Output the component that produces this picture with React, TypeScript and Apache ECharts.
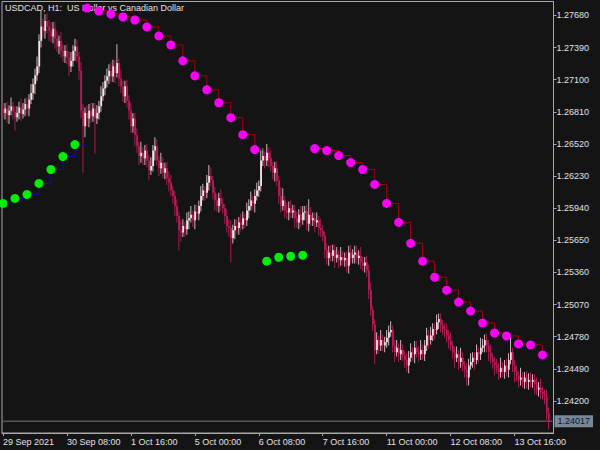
import React, { useEffect, useRef } from "react";
import * as echarts from "echarts";

// ---- data (USDCAD, H1) ----
const SYMBOL_TITLE = "USDCAD, H1:  US Dollar vs Canadian Dollar";
const X_TICK_LABELS = ["29 Sep 2021", "30 Sep 08:00", "1 Oct 16:00", "5 Oct 00:00", "6 Oct 08:00", "7 Oct 16:00", "11 Oct 00:00", "12 Oct 08:00", "13 Oct 16:00"];
const X_TICK_EVERY = 32; // bars between time labels
const Y_BASE = 1.242; // the 1.24200 gridline
const Y_STEP = 0.0029;
const Y_MIN_OFFSET = -0.0029;
const Y_MAX_OFFSET = 0.03606;
const LAST_PRICE = 1.24017;
const FIRST_OPEN = 1.2683;

const CLOSE = [
  1.2680,1.2684,1.2678,1.2682,1.2686,1.2681,1.2676,1.2680,1.2685,1.2679,
  1.2683,1.2688,1.2684,1.2692,1.2698,1.2706,1.2714,1.2722,1.2745,1.2758,
  1.2754,1.2763,1.2758,1.2754,1.2749,1.2756,1.2747,1.2740,1.2745,1.2736,
  1.2731,1.2736,1.2730,1.2722,1.2727,1.2736,1.2740,1.2731,1.2718,1.2682,
  1.2668,1.2680,1.2675,1.2682,1.2677,1.2684,1.2675,1.2680,1.2686,1.2695,
  1.2702,1.2709,1.2713,1.2718,1.2713,1.2722,1.2716,1.2725,1.2711,1.2704,
  1.2695,1.2704,1.2691,1.2682,1.2668,1.2675,1.2660,1.2650,1.2641,1.2644,
  1.2639,1.2646,1.2637,1.2628,1.2632,1.2646,1.2650,1.2637,1.2630,1.2635,
  1.2626,1.2630,1.2621,1.2617,1.2610,1.2605,1.2596,1.2587,1.2574,1.2572,
  1.2578,1.2575,1.2583,1.2585,1.2588,1.2583,1.2591,1.2589,1.2596,1.2605,
  1.2610,1.2608,1.2617,1.2623,1.2619,1.2608,1.2601,1.2596,1.2603,1.2598,
  1.2594,1.2587,1.2578,1.2576,1.2567,1.2574,1.2578,1.2576,1.2581,1.2579,
  1.2585,1.2583,1.2592,1.2596,1.2601,1.2598,1.2605,1.2610,1.2614,1.2637,
  1.2641,1.2637,1.2644,1.2639,1.2632,1.2626,1.2630,1.2619,1.2605,1.2596,
  1.2601,1.2592,1.2590,1.2594,1.2590,1.2592,1.2585,1.2581,1.2588,1.2583,
  1.2590,1.2591,1.2580,1.2588,1.2583,1.2585,1.2581,1.2583,1.2576,1.2574,
  1.2569,1.2556,1.2549,1.2554,1.2551,1.2556,1.2549,1.2552,1.2547,1.2550,
  1.2547,1.2549,1.2542,1.2554,1.2549,1.2552,1.2554,1.2549,1.2551,1.2545,
  1.2542,1.2545,1.2538,1.2520,1.2502,1.2489,1.2466,1.2475,1.2470,1.2475,
  1.2470,1.2473,1.2477,1.2482,1.2484,1.2470,1.2464,1.2468,1.2462,1.2466,
  1.2461,1.2457,1.2452,1.2459,1.2464,1.2462,1.2468,1.2464,1.2462,1.2466,
  1.2462,1.2470,1.2479,1.2475,1.2479,1.2485,1.2484,1.2491,1.2494,1.2488,
  1.2485,1.2484,1.2479,1.2475,1.2470,1.2464,1.2459,1.2462,1.2455,1.2459,
  1.2452,1.2448,1.2441,1.2452,1.2455,1.2459,1.2457,1.2464,1.2462,1.2468,
  1.2470,1.2475,1.2470,1.2464,1.2459,1.2455,1.2452,1.2450,1.2446,1.2450,
  1.2446,1.2452,1.2448,1.2457,1.2464,1.2452,1.2446,1.2443,1.2439,1.2441,
  1.2437,1.2441,1.2437,1.2439,1.2437,1.2439,1.2435,1.2430,1.2432,1.2428,
  1.2426,1.2424,1.2409,1.24017,
];

const HIGH = [
  1.2689,1.2689,1.2690,1.2687,1.2694,1.2690,1.2686,1.2686,1.2690,1.2693,
  1.2689,1.2693,1.2694,1.2697,1.2706,1.2711,1.2720,1.2731,1.2751,1.2772,
  1.2765,1.2769,1.2770,1.2764,1.2762,1.2762,1.2762,1.2754,1.2750,1.2753,
  1.2742,1.2741,1.2742,1.2736,1.2735,1.2741,1.2747,1.2746,1.2735,1.2726,
  1.2688,1.2685,1.2687,1.2688,1.2689,1.2689,1.2689,1.2687,1.2691,1.2704,
  1.2708,1.2714,1.2720,1.2724,1.2726,1.2728,1.2728,1.2742,1.2729,1.2719,
  1.2709,1.2709,1.2710,1.2696,1.2689,1.2680,1.2680,1.2666,1.2654,1.2654,
  1.2649,1.2651,1.2652,1.2642,1.2640,1.2651,1.2658,1.2656,1.2641,1.2644,
  1.2640,1.2635,1.2636,1.2627,1.2624,1.2614,1.2610,1.2602,1.2591,1.2583,
  1.2584,1.2582,1.2590,1.2591,1.2596,1.2592,1.2597,1.2597,1.2601,1.2614,
  1.2616,1.2614,1.2624,1.2633,1.2631,1.2623,1.2613,1.2607,1.2608,1.2611,
  1.2603,1.2598,1.2593,1.2584,1.2583,1.2579,1.2584,1.2584,1.2586,1.2589,
  1.2591,1.2589,1.2599,1.2602,1.2609,1.2605,1.2611,1.2617,1.2619,1.2646,
  1.2648,1.2645,1.2652,1.2649,1.2646,1.2636,1.2636,1.2636,1.2623,1.2613,
  1.2612,1.2605,1.2599,1.2600,1.2601,1.2597,1.2597,1.2591,1.2593,1.2596,
  1.2596,1.2596,1.2597,1.2602,1.2595,1.2590,1.2590,1.2590,1.2587,1.2585,
  1.2579,1.2573,1.2562,1.2560,1.2561,1.2561,1.2561,1.2559,1.2556,1.2559,
  1.2555,1.2554,1.2555,1.2560,1.2561,1.2557,1.2560,1.2560,1.2556,1.2559,
  1.2550,1.2550,1.2551,1.2543,1.2527,1.2506,1.2494,1.2482,1.2479,1.2484,
  1.2480,1.2478,1.2484,1.2488,1.2492,1.2488,1.2475,1.2475,1.2472,1.2475,
  1.2471,1.2465,1.2463,1.2465,1.2472,1.2468,1.2474,1.2474,1.2469,1.2475,
  1.2471,1.2475,1.2486,1.2484,1.2487,1.2490,1.2490,1.2498,1.2499,1.2499,
  1.2493,1.2490,1.2490,1.2484,1.2482,1.2474,1.2469,1.2469,1.2466,1.2468,
  1.2464,1.2456,1.2454,1.2458,1.2463,1.2464,1.2464,1.2471,1.2468,1.2477,
  1.2476,1.2480,1.2481,1.2475,1.2471,1.2463,1.2460,1.2458,1.2454,1.2459,
  1.2455,1.2457,1.2458,1.2463,1.2477,1.2468,1.2457,1.2452,1.2447,1.2450,
  1.2446,1.2446,1.2447,1.2445,1.2446,1.2444,1.2444,1.2441,1.2437,1.2440,
  1.2433,1.2430,1.2430,1.2414,
];

const LOW = [
  1.2675,1.2674,1.2671,1.2670,1.2678,1.2674,1.2664,1.2672,1.2674,1.2673,
  1.2675,1.2677,1.2678,1.2677,1.2688,1.2692,1.2697,1.2709,1.2716,1.2739,
  1.2748,1.2747,1.2752,1.2745,1.2744,1.2743,1.2738,1.2735,1.2733,1.2730,
  1.2726,1.2725,1.2724,1.2713,1.2717,1.2722,1.2727,1.2726,1.2710,1.2675,
  1.2626,1.2658,1.2668,1.2667,1.2671,1.2672,1.2643,1.2670,1.2674,1.2681,
  1.2691,1.2696,1.2703,1.2706,1.2708,1.2708,1.2707,1.2712,1.2704,1.2698,
  1.2690,1.2689,1.2685,1.2674,1.2662,1.2662,1.2650,1.2644,1.2633,1.2635,
  1.2633,1.2633,1.2631,1.2619,1.2624,1.2627,1.2637,1.2632,1.2623,1.2625,
  1.2621,1.2620,1.2615,1.2609,1.2605,1.2598,1.2587,1.2581,1.2556,1.2564,
  1.2568,1.2568,1.2570,1.2575,1.2581,1.2577,1.2575,1.2584,1.2583,1.2591,
  1.2601,1.2601,1.2603,1.2610,1.2614,1.2602,1.2592,1.2591,1.2590,1.2592,
  1.2589,1.2580,1.2572,1.2568,1.2545,1.2562,1.2566,1.2571,1.2570,1.2573,
  1.2575,1.2576,1.2578,1.2585,1.2592,1.2592,1.2590,1.2601,1.2604,1.2609,
  1.2632,1.2630,1.2632,1.2631,1.2627,1.2620,1.2618,1.2614,1.2598,1.2590,
  1.2592,1.2585,1.2584,1.2583,1.2585,1.2585,1.2576,1.2576,1.2575,1.2577,
  1.2579,1.2583,1.2574,1.2573,1.2578,1.2578,1.2572,1.2577,1.2569,1.2568,
  1.2564,1.2549,1.2543,1.2542,1.2546,1.2546,1.2540,1.2545,1.2540,1.2542,
  1.2542,1.2541,1.2536,1.2535,1.2544,1.2544,1.2544,1.2544,1.2543,1.2539,
  1.2537,1.2536,1.2532,1.2512,1.2497,1.2483,1.2453,1.2462,1.2463,1.2465,
  1.2465,1.2464,1.2468,1.2470,1.2478,1.2464,1.2455,1.2460,1.2455,1.2457,
  1.2456,1.2450,1.2446,1.2445,1.2455,1.2456,1.2454,1.2459,1.2455,1.2457,
  1.2457,1.2456,1.2465,1.2467,1.2471,1.2474,1.2475,1.2480,1.2485,1.2482,
  1.2480,1.2477,1.2473,1.2467,1.2465,1.2458,1.2450,1.2455,1.2448,1.2450,
  1.2447,1.2441,1.2434,1.2434,1.2448,1.2450,1.2448,1.2453,1.2455,1.2457,
  1.2464,1.2464,1.2464,1.2456,1.2454,1.2449,1.2443,1.2445,1.2439,1.2441,
  1.2441,1.2440,1.2442,1.2441,1.2453,1.2446,1.2437,1.2438,1.2432,1.2434,
  1.2432,1.2431,1.2431,1.2430,1.2432,1.2432,1.2426,1.2425,1.2424,1.2422,
  1.2421,1.2417,1.2403,1.2394,
];

// Trailing-stop indicator dots (every 6th bar) and where each run ends
const SELL1_BARS = [42, 48, 54, 60, 66, 72, 78, 84, 90, 96, 102, 108, 114, 120, 126];
const SELL1_VALUES = [1.27747, 1.2772, 1.27693, 1.27666, 1.27639, 1.27576, 1.27495, 1.27414, 1.2727, 1.27135, 1.27009, 1.26892, 1.26757, 1.26604, 1.26469];
const SELL1_END = 131;
const SELL2_BARS = [156, 162, 168, 174, 180, 186, 192, 198, 204, 210, 216, 222, 228, 234, 240, 246, 252, 258, 264, 270];
const SELL2_VALUES = [1.26478, 1.2646, 1.26415, 1.26352, 1.26289, 1.26154, 1.25983, 1.25812, 1.25623, 1.25461, 1.25317, 1.252, 1.25092, 1.25011, 1.24903, 1.24813, 1.24786, 1.24714, 1.24705, 1.24615];
const SELL2_END = 273;
const BUY1_BARS = [0, 6, 12, 18, 24, 30, 36];
const BUY1_VALUES = [1.25983, 1.26028, 1.26064, 1.26163, 1.26289, 1.26406, 1.26514];
const BUY1_END = 41;
const BUY2_BARS = [132, 138, 144, 150];
const BUY2_VALUES = [1.25461, 1.25497, 1.25506, 1.25515];
const BUY2_END = 155;

// ---- styling ----
const BG = "#141414";
const FG = "#e2e2e2";
const FRAME = "#a8a8a8";
const FONT = "'Liberation Sans', Arial, sans-serif";
const BULL_BODY = "#f8e4e4";
const BULL_WICK = "#cfb6b9";
const BEAR_BODY = "#b81d5a";
const BEAR_WICK = "#a81a52";

export default function App() {
  const ref = useRef<HTMLDivElement>(null);

  useEffect(() => {
    if (!ref.current) return;
    const chart = echarts.init(ref.current, undefined, { renderer: "svg" });
    const off = (v: number) => v - Y_BASE;
    const nBars = CLOSE.length;
    const cats = Array.from({ length: nBars + 2 }, (_, i) => String(i));
    const candles = CLOSE.map((c, i) => {
      const o = i === 0 ? FIRST_OPEN : CLOSE[i - 1];
      return [i, off(o), off(c), off(LOW[i]), off(HIGH[i])];
    });
    const pairs = (bars: number[], vals: number[]) => bars.map((b, i) => [b, off(vals[i])]);
    const stepLine = (bars: number[], vals: number[], end: number) => [
      ...pairs(bars, vals),
      [end, off(vals[vals.length - 1])],
    ];
    const showTick = (idx: number) => idx % X_TICK_EVERY === 0 && idx / X_TICK_EVERY < X_TICK_LABELS.length;

    const lineSeries = (bars: number[], vals: number[], end: number, color: string) => ({
      type: "line",
      data: stepLine(bars, vals, end),
      step: "end",
      symbol: "none",
      lineStyle: { color, width: 1 },
      z: 3,
      silent: true,
    });
    const dotSeries = (bars: number[], vals: number[], color: string) => ({
      type: "scatter",
      data: pairs(bars, vals),
      symbol: "circle",
      symbolSize: 9,
      itemStyle: { color, opacity: 1 },
      z: 4,
      silent: true,
    });

    const renderCandle = (_params: any, api: any) => {
      const i = api.value(0);
      const o = api.value(1);
      const c = api.value(2);
      const pO = api.coord([i, o]);
      const pC = api.coord([i, c]);
      const pL = api.coord([i, api.value(3)]);
      const pH = api.coord([i, api.value(4)]);
      const bull = c >= o;
      const x = pO[0] - 0.5;
      const top = Math.min(pO[1], pC[1]);
      const h = Math.max(1, Math.abs(pO[1] - pC[1]));
      return {
        type: "group",
        children: [
          {
            type: "rect",
            shape: { x, y: pH[1], width: 1, height: Math.max(1, pL[1] - pH[1]) },
            style: { fill: bull ? BULL_WICK : BEAR_WICK },
          },
          {
            type: "rect",
            shape: { x, y: top, width: 1.7, height: h },
            style: { fill: bull ? BULL_BODY : BEAR_BODY },
          },
        ],
      };
    };

    chart.setOption({
      animation: false,
      backgroundColor: BG,
      textStyle: { fontFamily: FONT },
      grid: {
        left: 1.5,
        top: 1.5,
        right: 46.5,
        bottom: 17,
        show: true,
        borderColor: FRAME,
        borderWidth: 1,
        backgroundColor: "transparent",
      },
      graphic: [
        {
          type: "text",
          left: 5,
          top: 3,
          z: 0,
          style: { text: SYMBOL_TITLE, fill: FG, font: `9px ${FONT}` },
        },
      ],
      xAxis: {
        type: "category",
        data: cats,
        boundaryGap: true,
        axisLine: { show: true, onZero: false, lineStyle: { color: FRAME } },
        axisTick: { show: true, alignWithLabel: true, interval: (i: number) => showTick(i), length: 3, lineStyle: { color: FRAME } },
        axisLabel: {
          interval: (i: number) => showTick(i),
          formatter: (_v: string, i: number) => X_TICK_LABELS[i / X_TICK_EVERY] ?? "",
          align: "left",
          color: FG,
          fontSize: 9,
          fontFamily: FONT,
          margin: 4,
        },
        splitLine: { show: false },
      },
      yAxis: {
        type: "value",
        position: "right",
        min: Y_MIN_OFFSET,
        max: Y_MAX_OFFSET,
        interval: Y_STEP,
        axisLine: { show: true, onZero: false, lineStyle: { color: FRAME } },
        axisTick: { show: true, length: 3, lineStyle: { color: FRAME } },
        axisLabel: {
          formatter: (v: number) => (v + Y_BASE).toFixed(5),
          color: FG,
          fontSize: 9,
          fontFamily: FONT,
          margin: 3,
          showMinLabel: false,
          showMaxLabel: false,
        },
        splitLine: { show: false },
      },
      series: [
        {
          type: "line",
          data: [[0, off(LAST_PRICE)], [nBars + 1, off(LAST_PRICE)]],
          symbol: "none",
          lineStyle: { color: "#6c7888", width: 1 },
          z: 1,
          silent: true,
          endLabel: {
            show: true,
            distance: 2,
            formatter: LAST_PRICE.toFixed(5),
            backgroundColor: "#778899",
            color: "#151515",
            fontSize: 9,
            fontFamily: FONT,
            padding: [2, 3, 1, 3],
          },
        },
        {
          type: "custom",
          data: candles,
          encode: { x: 0, y: [1, 2, 3, 4] },
          renderItem: renderCandle,
          z: 2,
          silent: true,
        },
        lineSeries(BUY1_BARS, BUY1_VALUES, BUY1_END, "#1010a8"),
        lineSeries(BUY2_BARS, BUY2_VALUES, BUY2_END, "#1010a8"),
        lineSeries(SELL1_BARS, SELL1_VALUES, SELL1_END, "#a80000"),
        lineSeries(SELL2_BARS, SELL2_VALUES, SELL2_END, "#a80000"),
        dotSeries(BUY1_BARS, BUY1_VALUES, "#00ee00"),
        dotSeries(BUY2_BARS, BUY2_VALUES, "#00ee00"),
        dotSeries(SELL1_BARS, SELL1_VALUES, "#ff00ff"),
        dotSeries(SELL2_BARS, SELL2_VALUES, "#ff00ff"),
      ],
    });
    return () => chart.dispose();
  }, []);

  return <div ref={ref} style={{ position: "fixed", left: 0, top: 0, width: 600, height: 450 }} />;
}
